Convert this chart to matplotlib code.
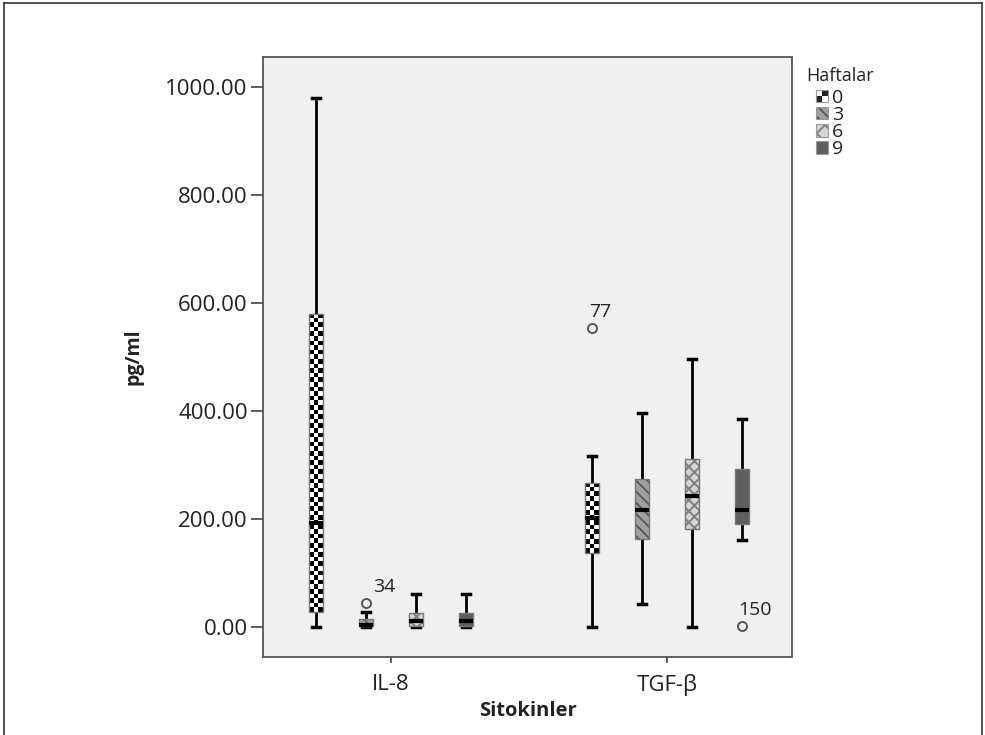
import numpy as np
import matplotlib
matplotlib.use("Agg")
import matplotlib.pyplot as plt
from matplotlib.patches import Rectangle, Patch
from matplotlib.lines import Line2D
from matplotlib.legend_handler import HandlerBase

plt.rcParams['font.family'] = ['Open Sans', 'DejaVu Sans']
plt.rcParams['hatch.linewidth'] = 1.4

# ---------------- data ----------------
categories = ['IL-8', 'TGF-β']
weeks = ['0', '3', '6', '9']

il8_whislo = [0, 0, 0, 0]
il8_q1 = [28, 1, 1, 1]
il8_med = [193, 3, 12, 11]
il8_q3 = [580, 15, 26, 26]
il8_whishi = [980, 28, 61, 61]

tgf_whislo = [0, 43, 0, 161]
tgf_q1 = [137, 163, 181, 191]
tgf_med = [202, 217, 243, 217]
tgf_q3 = [267, 274, 311, 293]
tgf_whishi = [317, 396, 496, 385]

# outliers: (category index, week index, value, case label)
outlier_cat = [0, 1, 1]
outlier_week = [1, 0, 3]
outlier_val = [44, 554, 2]
outlier_lab = ['34', '77', '150']

y_ticks = [0, 200, 400, 600, 800, 1000]

# ---------------- figure ----------------
W, H = 985, 735
fig = plt.figure(figsize=(W / 100, H / 100), dpi=100)
ax = fig.add_axes([263 / W, 1 - 657 / H, (792 - 263) / W, (657 - 57) / H])
ax.set_facecolor('#f0f0f0')
ax.set_xlim(-0.464, 1.453)
ax.set_ylim(-55.5, 1055.5)

offsets = [-0.272, -0.091, 0.091, 0.272]
bw = 0.05
face = ['white', '#a0a0a0', '#d6d6d6', '#5e5e5e']
hatch = [None, '\\\\\\', 'xxx', None]
hatch_col = [None, '#5a5a5a', '#808080', None]
label_off = [(5, 5), (-2, 5), (-3, 5)]  # label offsets in points

stats = [
    (il8_whislo, il8_q1, il8_med, il8_q3, il8_whishi),
    (tgf_whislo, tgf_q1, tgf_med, tgf_q3, tgf_whishi),
]

fig.canvas.draw()

def checker_fill(x0, y0, w, h, zorder):
    p0 = ax.transData.transform((x0, y0))
    p1 = ax.transData.transform((x0 + w, y0 + h))
    wpx, hpx = abs(p1[0] - p0[0]), abs(p1[1] - p0[1])
    cell = wpx / 3.0
    nx = 3
    ny = max(1, int(round(hpx / cell)))
    yy, xx = np.mgrid[0:ny, 0:nx]
    img = ((xx + yy) % 2).astype(float)
    rect = Rectangle((x0, y0), w, h, transform=ax.transData)
    im = ax.imshow(img, cmap='gray', vmin=0.1, vmax=1.0, extent=(x0, x0 + w, y0, y0 + h),
                   interpolation='nearest', aspect='auto', zorder=zorder)
    im.set_clip_path(rect)

for ci, (wlo, q1, med, q3, whi) in enumerate(stats):
    for wi in range(4):
        x = ci + offsets[wi]
        ax.plot([x, x], [wlo[wi], q1[wi]], color='black', lw=2.0, zorder=2, solid_capstyle='butt')
        ax.plot([x, x], [q3[wi], whi[wi]], color='black', lw=2.0, zorder=2, solid_capstyle='butt')
        cw = bw * 0.55
        ax.plot([x - cw / 2, x + cw / 2], [wlo[wi], wlo[wi]], color='black', lw=2.5, zorder=2)
        ax.plot([x - cw / 2, x + cw / 2], [whi[wi], whi[wi]], color='black', lw=2.5, zorder=2)
        x0 = x - bw / 2
        h = q3[wi] - q1[wi]
        if wi == 0:
            checker_fill(x0, q1[wi], bw, h, zorder=3)
        else:
            r = Rectangle((x0, q1[wi]), bw, h, facecolor=face[wi], edgecolor='none', lw=0, zorder=3)
            if hatch[wi]:
                r.set_hatch(hatch[wi])
                r._hatch_color = matplotlib.colors.to_rgba(hatch_col[wi])
            ax.add_patch(r)
        ax.add_patch(Rectangle((x0, q1[wi]), bw, h, facecolor='none',
                               edgecolor='#777777', lw=1.0, zorder=4))
        ax.plot([x0, x0 + bw], [med[wi], med[wi]], color='black', lw=3.0, zorder=5,
                solid_capstyle='butt')

for k, (ci, wi, v, lab) in enumerate(zip(outlier_cat, outlier_week, outlier_val, outlier_lab)):
    x = ci + offsets[wi]
    ax.plot([x], [v], marker='o', ms=6.5, mfc='none', mec='#555555', mew=1.4, zorder=6)
    ax.annotate(lab, (x, v), xytext=label_off[k], textcoords='offset points',
                fontsize=14, color='#222222', ha='left', va='bottom')

ax.set_yticks(y_ticks)
ax.set_yticklabels([f'{t:.2f}' for t in y_ticks], fontsize=16, color='#222222')
ax.set_xticks([0, 1])
ax.set_xticklabels(categories, fontsize=16, color='#222222')
ax.tick_params(axis='y', length=9, width=1.2, color='#444444', pad=2)
ax.tick_params(axis='x', length=4, width=1.2, color='#444444', pad=8)
for s in ax.spines.values():
    s.set_color('#555555')
    s.set_linewidth(1.3)

ax.set_ylabel('pg/ml', fontsize=14, fontweight='bold', labelpad=16, color='#222222')
ax.set_xlabel('Sitokinler', fontsize=14.5, fontweight='bold', labelpad=4, color='#222222')

# legend
class CheckerHandler(HandlerBase):
    def create_artists(self, legend, orig_handle, xdescent, ydescent, width, height, fontsize, trans):
        s = min(width, height)
        arts = []
        half = s / 2
        cols = [['#222222', 'white'], ['white', '#222222']]
        for i in range(2):
            for j in range(2):
                arts.append(Rectangle((-xdescent + j * half, -ydescent + i * half), half, half,
                                      facecolor=cols[i][j], edgecolor='none', transform=trans))
        arts.append(Rectangle((-xdescent, -ydescent), s, s, facecolor='none',
                              edgecolor='#999999', lw=0.8, transform=trans))
        return arts

class PatchHandler(HandlerBase):
    def create_artists(self, legend, orig_handle, xdescent, ydescent, width, height, fontsize, trans):
        s = min(width, height)
        r = Rectangle((-xdescent, -ydescent), s, s, facecolor=orig_handle.get_facecolor(),
                      edgecolor='#999999', lw=0.8, transform=trans)
        if orig_handle.get_hatch():
            r.set_hatch(orig_handle.get_hatch())
            r._hatch_color = orig_handle._hatch_color
        return [r]

handles = []
hmap = {}
for wi in range(4):
    p = Patch(facecolor=face[wi], label=weeks[wi])
    if hatch[wi]:
        p.set_hatch(hatch[wi] if wi != 2 else 'xx')
        p._hatch_color = matplotlib.colors.to_rgba(hatch_col[wi])
    handles.append(p)
    hmap[p] = CheckerHandler() if wi == 0 else PatchHandler()

fig.text(806 / W, 1 - 76 / H, 'Haftalar', fontsize=13, color='#222222', ha='left', va='center')
leg = fig.legend(handles=handles, labels=weeks, handler_map=hmap,
                 loc='upper left', bbox_to_anchor=(816 / W, 1 - 89 / H), frameon=False,
                 fontsize=14, handlelength=0.62, handleheight=0.62,
                 handletextpad=0.2, labelspacing=-0.05, borderaxespad=0, borderpad=0)
for t in leg.get_texts():
    t.set_color('#222222')

# outer frame
fig.add_artist(Line2D([4 / W, 4 / W], [0, 1 - 3 / H], color='#333333', lw=1.2, transform=fig.transFigure))
fig.add_artist(Line2D([4 / W, 982 / W], [1 - 3 / H, 1 - 3 / H], color='#333333', lw=1.2, transform=fig.transFigure))
fig.add_artist(Line2D([982 / W, 982 / W], [0, 1 - 3 / H], color='#333333', lw=1.2, transform=fig.transFigure))

fig.savefig('out.png', dpi=100, facecolor='white')
